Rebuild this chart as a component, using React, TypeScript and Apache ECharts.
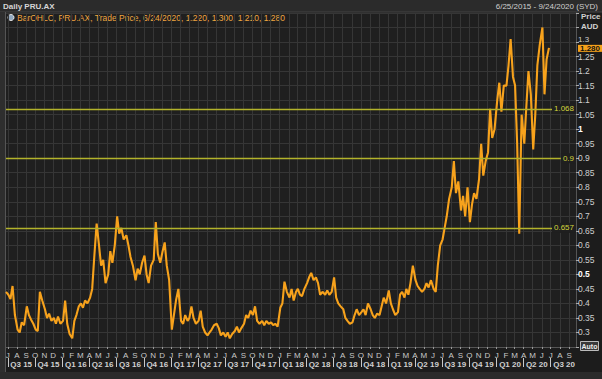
import React, { useEffect, useRef } from "react";
import * as echarts from "echarts";

// ---- data (weekly closes, one row per month, 4 weeks) ----
const startYear = 2015;
const startMonth = 6; // June 2015 (1-based)
const weekDays = [3, 10, 17, 25];

const y2015: (number | null)[][] = [
  [null, null, null, 0.44], // Jun
  [0.43, 0.415, 0.46, 0.36], // Jul
  [0.31, 0.3, 0.335, 0.325], // Aug
  [0.39, 0.36, 0.345, 0.33], // Sep
  [0.31, 0.305, 0.44, 0.41], // Oct
  [0.38, 0.35, 0.365, 0.34], // Nov
  [0.35, 0.33, 0.355, 0.33], // Dec
];
const y2016: (number | null)[][] = [
  [0.34, 0.41, 0.33, 0.295],
  [0.28, 0.34, 0.36, 0.39],
  [0.4, 0.385, 0.41, 0.4],
  [0.42, 0.45, 0.56, 0.675],
  [0.6, 0.53, 0.55, 0.47],
  [0.5, 0.58, 0.54, 0.6],
  [0.7, 0.64, 0.66, 0.62],
  [0.635, 0.6, 0.56, 0.53],
  [0.48, 0.52, 0.5, 0.54],
  [0.565, 0.5, 0.47, 0.53],
  [0.55, 0.68, 0.57, 0.54],
  [0.58, 0.61, 0.53, 0.48],
];
const y2017: (number | null)[][] = [
  [0.31, 0.36, 0.41, 0.45],
  [0.34, 0.33, 0.36, 0.34],
  [0.35, 0.39, 0.35, 0.33],
  [0.34, 0.375, 0.32, 0.3],
  [0.29, 0.3, 0.31, 0.325],
  [0.33, 0.315, 0.29, 0.3],
  [0.285, 0.3, 0.28, 0.295],
  [0.305, 0.32, 0.3, 0.315],
  [0.33, 0.36, 0.35, 0.375],
  [0.36, 0.39, 0.34, 0.33],
  [0.34, 0.325, 0.34, 0.33],
  [0.335, 0.325, 0.33, 0.32],
];
const y2018: (number | null)[][] = [
  [0.385, 0.4, 0.475, 0.44],
  [0.42, 0.45, 0.41, 0.44],
  [0.45, 0.43, 0.425, 0.45],
  [0.47, 0.49, 0.505, 0.48],
  [0.49, 0.47, 0.43, 0.44],
  [0.43, 0.445, 0.43, 0.44],
  [0.49, 0.42, 0.4, 0.39],
  [0.38, 0.35, 0.34, 0.33],
  [0.335, 0.36, 0.38, 0.36],
  [0.37, 0.38, 0.36, 0.4],
  [0.38, 0.36, 0.35, 0.365],
  [0.36, 0.39, 0.42, 0.4],
];
const y2019: (number | null)[][] = [
  [0.445, 0.4, 0.38, 0.36],
  [0.37, 0.43, 0.44, 0.42],
  [0.45, 0.43, 0.47, 0.53],
  [0.48, 0.46, 0.45, 0.44],
  [0.45, 0.47, 0.455, 0.48],
  [0.45, 0.44, 0.53, 0.6],
  [0.62, 0.66, 0.7, 0.76],
  [0.8, 0.89, 0.78, 0.82],
  [0.72, 0.77, 0.7, 0.8],
  [0.68, 0.74, 0.78, 0.76],
  [0.83, 0.95, 0.84, 0.89],
  [0.92, 1.07, 0.97, 1.0],
];
const y2020: (number | null)[][] = [
  [1.1, 1.16, 1.06, 1.15],
  [1.15, 1.22, 1.31, 1.18],
  [1.15, 0.95, 0.64, 1.05],
  [0.95, 1.08, 1.2, 1.12],
  [0.93, 1.05, 1.22, 1.29],
  [1.35, 1.12, 1.24, 1.28],
];

const levels = [1.068, 0.9, 0.657];
const lastBar = { date: "6/24/2020", open: 1.22, high: 1.3, low: 1.21, close: 1.28 };
const monthLetters = ["J", "F", "M", "A", "M", "J", "J", "A", "S", "O", "N", "D"];
const title = "Daily PRU.AX";
const rangeText = "6/25/2015 - 9/24/2020 (SYD)";

const FONT = "Liberation Sans, Arial, sans-serif";

export default function App() {
  const ref = useRef<HTMLDivElement>(null);

  useEffect(() => {
    if (!ref.current) return;
    const chart = echarts.init(ref.current, undefined, { renderer: "svg" });

    const rows = [...y2015, ...y2016, ...y2017, ...y2018, ...y2019, ...y2020];
    const seriesData: [number, number][] = [];
    rows.forEach((row, i) => {
      const mi = startMonth - 1 + i;
      const yr = startYear + Math.floor(mi / 12);
      const m = mi % 12;
      row.forEach((v, k) => {
        if (v != null) seriesData.push([new Date(yr, m, weekDays[k]).getTime(), v]);
      });
    });

    const xMin = new Date(2015, 5, 25).getTime();
    const xMax = new Date(2020, 8, 24).getTime();

    const monthStarts: number[] = [];
    for (let i = 0; i <= 62; i++) monthStarts.push(new Date(2015, 6 + i, 1).getTime());
    const quarterStarts: number[] = [];
    const quarterMids: number[] = [];
    for (let i = 0; i <= 60; i += 3) {
      quarterStarts.push(new Date(2015, 6 + i, 1).getTime());
      quarterMids.push(new Date(2015, 7 + i, 15).getTime());
    }

    const legendText =
      "BarOHLC, PRU.AX, Trade Price, " +
      lastBar.date +
      ", " +
      [lastBar.open, lastBar.high, lastBar.low, lastBar.close].map((v) => v.toFixed(3)).join(", ");

    const option: any = {
      animation: false,
      backgroundColor: "#1c1c1c",
      textStyle: { fontFamily: FONT },
      grid: {
        left: 6,
        right: 26,
        top: 13,
        bottom: 32,
        show: true,
        backgroundColor: "#1f1f1f",
        borderWidth: 0,
      },
      xAxis: [
        {
          type: "value",
          min: xMin,
          max: xMax,
          axisLine: { show: true, lineStyle: { color: "#555" } },
          axisTick: { show: true, customValues: monthStarts, length: 2, lineStyle: { color: "#999" } },
          axisLabel: {
            customValues: monthStarts,
            formatter: (v: number) => monthLetters[new Date(v).getMonth()],
            color: "#c8c8c8",
            fontSize: 8,
            margin: 4,
            fontFamily: FONT,
          },
          splitLine: { show: true, lineStyle: { color: "#363636", width: 1 } },
        },
        {
          type: "value",
          min: xMin,
          max: xMax,
          position: "bottom",
          offset: 11,
          axisLine: { show: false },
          axisTick: { show: true, customValues: quarterStarts, length: 9, lineStyle: { color: "#c8c8c8" } },
          axisLabel: {
            customValues: quarterMids,
            formatter: (v: number) => {
              const d = new Date(v);
              return "Q" + (Math.floor(d.getMonth() / 3) + 1) + " " + String(d.getFullYear()).slice(2);
            },
            color: "#d0d0d0",
            fontSize: 8,
            fontWeight: "bold",
            margin: 2,
            fontFamily: FONT,
          },
          splitLine: { show: false },
        },
      ],
      yAxis: {
        type: "value",
        position: "right",
        min: 0.25,
        max: 1.4,
        interval: 0.05,
        axisLine: { show: true, lineStyle: { color: "#555" } },
        axisTick: { show: true, length: 3, lineStyle: { color: "#aaa" } },
        axisLabel: {
          margin: 2,
          fontSize: 8.5,
          color: "#cfcfcf",
          fontFamily: FONT,
          formatter: (v: number) => {
            const r = Math.round(v * 100) / 100;
            if (r < 0.29 || r > 1.31) return "";
            if (r === 1 || r === 0.5) return "{b|" + r + "}";
            if (r === 1.3) return "{u|" + r + "}";
            return String(r);
          },
          rich: {
            b: { fontWeight: "bold", color: "#ffffff", fontSize: 8.5, fontFamily: FONT },
            u: { color: "#cfcfcf", fontSize: 8, fontFamily: FONT, lineHeight: 8, padding: [0, 0, 6, 0] },
          },
        },
        splitLine: { show: true, lineStyle: { color: "#363636", width: 1 } },
      },
      series: [
        {
          type: "line",
          data: seriesData,
          showSymbol: false,
          symbol: "none",
          lineStyle: { color: "#f7a21c", width: 2.1 },
          z: 3,
          markLine: {
            silent: true,
            symbol: ["none", "none"],
            animation: false,
            data: [
              ...levels.map((l) => ({
                yAxis: l,
                lineStyle: { color: "#b3b32b", width: 1.3, type: "solid" },
                label: {
                  show: true,
                  position: "insideEnd",
                  formatter: String(l),
                  color: "#d4d43c",
                  fontSize: 8,
                  fontFamily: FONT,
                  backgroundColor: "#1f1f1f",
                  padding: [1, 2],
                  distance: 0,
                },
              })),
              {
                yAxis: lastBar.close,
                lineStyle: { color: "rgba(0,0,0,0)", width: 1 },
                label: {
                  show: true,
                  position: "end",
                  formatter: lastBar.close.toFixed(3),
                  backgroundColor: "#f6a11a",
                  color: "#111",
                  fontWeight: "bold",
                  fontSize: 8,
                  lineHeight: 7,
                  fontFamily: FONT,
                  padding: [0, 2, 0, 2],
                  offset: [0, 0.5],
                  distance: 2,
                },
              },
            ],
          },
        },
      ],
      graphic: [
        { type: "rect", shape: { x: 0, y: 0, width: 602, height: 12 }, style: { fill: "#2b2b2b" } },
        { type: "line", shape: { x1: 0, y1: 12, x2: 602, y2: 12 }, style: { stroke: "#444", lineWidth: 1 } },
        { type: "rect", shape: { x: 0, y: 12, width: 5, height: 367 }, style: { fill: "#2e2e2e" } },
        { type: "line", shape: { x1: 5.5, y1: 12, x2: 5.5, y2: 372 }, style: { stroke: "#555", lineWidth: 1 } },
        { type: "rect", shape: { x: 0, y: 372, width: 602, height: 7 }, style: { fill: "#2b2b2b" } },
        {
          type: "text",
          x: 3,
          y: 6,
          style: { text: title, fill: "#d6d6d6", font: "bold 8px " + FONT, verticalAlign: "middle" },
        },
        {
          type: "text",
          x: 598,
          y: 6,
          style: { text: rangeText, fill: "#cfcfcf", font: "8px " + FONT, align: "right", verticalAlign: "middle" },
        },
        {
          type: "circle",
          shape: { cx: 11, cy: 17.5, r: 3 },
          style: { fill: "#8fa7c0", stroke: "#e8e8e8", lineWidth: 1 },
        },
        {
          type: "text",
          x: 17,
          y: 17.5,
          style: { text: legendText, fill: "#f0a640", font: "8.5px " + FONT, verticalAlign: "middle" },
        },
        {
          type: "text",
          x: 581,
          y: 16,
          style: { text: "Price", fill: "#d0d0d0", font: "bold 8px " + FONT, verticalAlign: "middle" },
        },
        {
          type: "text",
          x: 581,
          y: 26,
          style: { text: "AUD", fill: "#d0d0d0", font: "bold 8px " + FONT, verticalAlign: "middle" },
        },
        {
          type: "rect",
          shape: { x: 580.5, y: 341.5, width: 18, height: 9 },
          style: { fill: "#3a3a3a", stroke: "#bbb", lineWidth: 1 },
        },
        {
          type: "text",
          x: 589.5,
          y: 346,
          style: { text: "Auto", fill: "#eee", font: "bold 7px " + FONT, align: "center", verticalAlign: "middle" },
        },
      ],
    };

    chart.setOption(option);
    return () => chart.dispose();
  }, []);

  return (
    <div
      ref={ref}
      style={{ position: "fixed", left: 0, top: 0, width: 602, height: 379, background: "#1c1c1c" }}
    />
  );
}
